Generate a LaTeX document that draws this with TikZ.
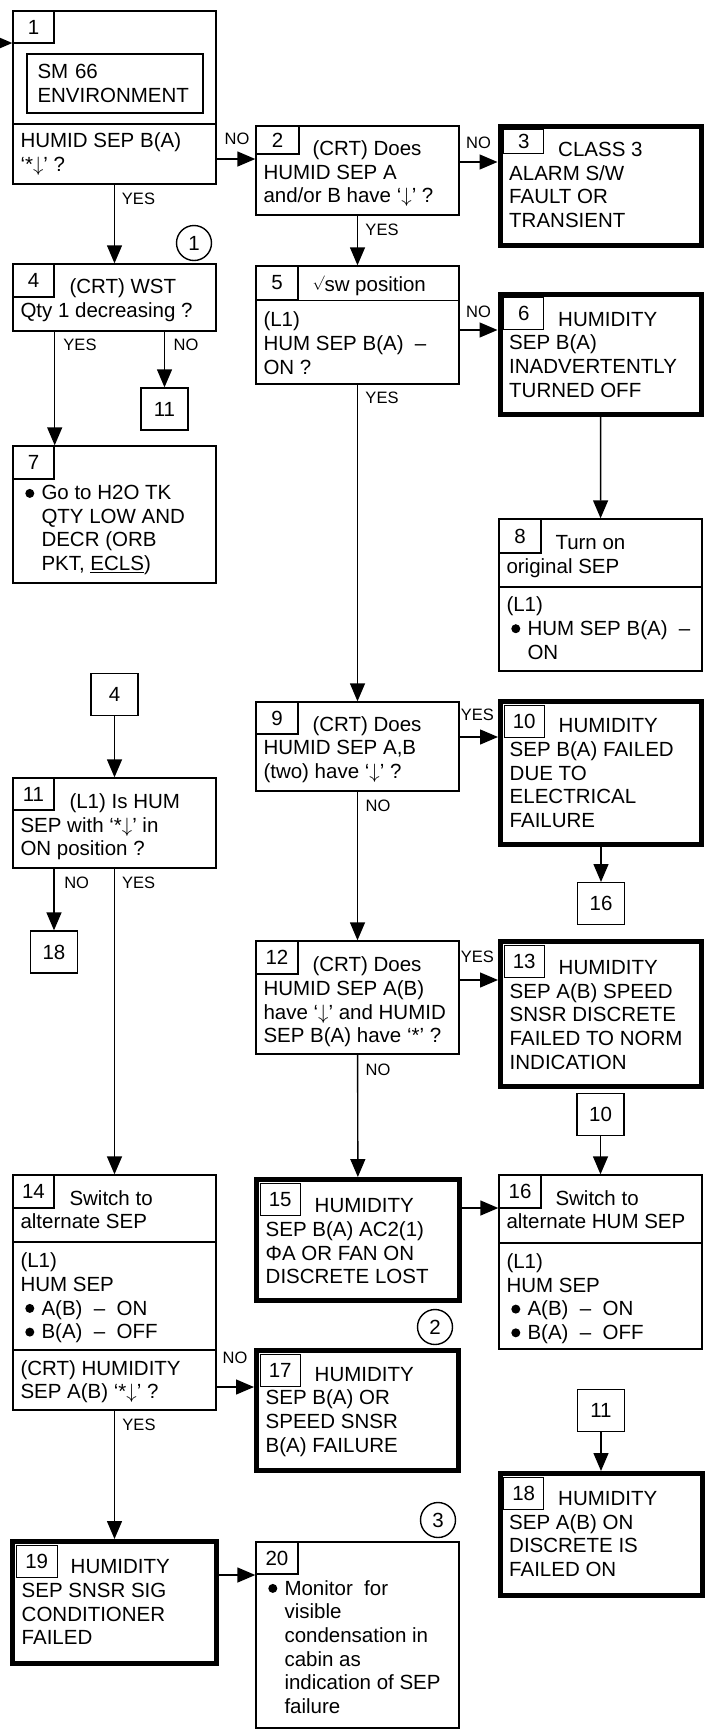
\documentclass[tikz,border=0pt]{standalone}
\usepackage{fontspec}
\setmainfont{Liberation Sans}
\usepackage{tikz}
\usetikzlibrary{arrows.meta, positioning}

\begin{document}
\begin{tikzpicture}[
    x=1pt, y=-1pt,
    node distance=35pt,
    box/.style={rectangle, draw=black, line width=1.4pt, inner sep=0pt},
    alarm/.style={rectangle, draw=black, line width=5pt, inner sep=0pt},
    tab/.style={rectangle, draw=black, line width=1.4pt, inner sep=0pt, anchor=north west, minimum width=42pt, minimum height=33pt, font=\fontsize{20.5}{24}\selectfont},
    ttab/.style={tab, minimum width=40pt, minimum height=32pt},
    txt/.style={anchor=north west, inner sep=0pt, align=left, font=\fontsize{20.5}{23.7}\selectfont, execute at begin node=\strut},
    refbox/.style={rectangle, draw=black, line width=1.4pt, minimum width=47pt, minimum height=42pt, inner sep=0pt, font=\fontsize{20.5}{24}\selectfont},
    conn/.style={circle, draw=black, line width=1.4pt, minimum size=35pt, inner sep=0pt, font=\fontsize{20.5}{24}\selectfont},
    lbl/.style={inner sep=0pt, font=\fontsize{16.5}{18}\selectfont},
    divider/.style={line width=1.4pt},
    arrow/.style={-{Triangle[length=18pt, width=15pt]}, line width=1.4pt}
]
\useasboundingbox (0,0) rectangle (711,1733);
\coordinate (in) at (0,43);

% Left column
\node (b1) [box, minimum width=203pt, minimum height=173pt] at (114.5,97.5) {};
\node (n1) [tab, minimum width=41pt, minimum height=32pt] at (b1.north west) {1};
\node (b1env) [box, minimum width=176pt, minimum height=59pt, text width=155pt, align=left, font=\fontsize{20.5}{23.7}\selectfont] at (115,83.5) {SM 66\\ENVIRONMENT};
\draw[divider] (b1.west |- 0,124) -- (b1.east |- 0,124);
\node (t1) [txt] at ([shift={(8,122)}]b1.north west) {HUMID SEP B(A)\\‘*$\downarrow$’ ?};

\node (b4) [box, minimum width=203pt, minimum height=67pt] at (114.5,297.5) {};
\node (n4) [tab, minimum width=41pt] at (b4.north west) {4};
\node (t4) [txt] at ([shift={(8,15)}]b4.north west) {\hspace*{49pt}(CRT) WST\\Qty 1 decreasing ?};

\node (r11a) [refbox] at (164.5,409) {11};

\node (b7) [box, minimum width=203pt, minimum height=137pt] at (114.5,514.5) {};
\node (n7) [tab, minimum width=41pt] at (b7.north west) {7};
\node (t7) [txt] at ([shift={(8,39.7)}]b7.north west) {\hspace*{21pt}Go to H2O TK\\\hspace*{21pt}QTY LOW AND\\\hspace*{21pt}DECR (ORB\\\hspace*{21pt}PKT, \underline{ECLS})};
\fill ([shift={(9.5,8.4)}]t7.north west) circle (4.5pt);

\node (b11) [box, minimum width=203pt, minimum height=90pt] at (114.5,823) {};
\node (n11) [tab, minimum width=41pt, minimum height=32pt] at (b11.north west) {11};
\node (t11) [txt] at ([shift={(8,16)}]b11.north west) {\hspace*{49pt}(L1) Is HUM\\SEP with ‘*$\downarrow$’ in\\ON position ?};
\node (r4) [refbox, above=61pt of b11] {4};
\node (r18a) [refbox] at (54,952) {18};

\node (b14) [box, minimum width=203pt, minimum height=235pt] at (114.5,1292.5) {};
\node (n14) [tab, minimum width=41pt] at (b14.north west) {14};
\node (t14) [txt] at ([shift={(8,15.7)}]b14.north west) {\hspace*{49pt}Switch to\\alternate SEP};
\draw[divider] (b14.west |- 0,1242) -- (b14.east |- 0,1242);
\node (t14b) [txt] at ([shift={(8,78.3)}]b14.north west) {(L1)\\HUM SEP\\\hspace*{21pt}A(B)~~–~~ON\\\hspace*{21pt}B(A)~~–~~OFF};
\fill ([shift={(9.5,55.8)}]t14b.north west) circle (4.5pt);
\fill ([shift={(9.5,79.5)}]t14b.north west) circle (4.5pt);
\draw[divider] (b14.west |- 0,1350) -- (b14.east |- 0,1350);
\node (t14c) [txt] at ([shift={(8,185.7)}]b14.north west) {(CRT) HUMIDITY\\SEP A(B) ‘*$\downarrow$’ ?};

\node (b19) [alarm, minimum width=204pt, minimum height=122pt] at (114.5,1602.5) {};
\node (n19) [ttab, minimum width=41pt] at ([shift={(5.5,5.5)}]b19.north west) {19};
\node (t19) [txt] at ([shift={(11.5,20.4)}]b19.north west) {\hspace*{49pt}HUMIDITY\\SEP SNSR SIG\\CONDITIONER\\FAILED};

% Middle column
\node (b2) [box, minimum width=203pt, minimum height=89pt] at (357.5,170.5) {};
\node (n2) [tab, minimum width=43pt, minimum height=28pt] at (b2.north west) {2};
\node (t2) [txt] at ([shift={(8,15)}]b2.north west) {\hspace*{49pt}(CRT) Does\\HUMID SEP A\\and/or B have ‘$\downarrow$’ ?};

\node (b5) [box, minimum width=203pt, minimum height=118pt] at (357.5,325) {};
\node (n5) [tab, minimum height=34pt] at (b5.north west) {5};
\draw[divider] (n5.south east) -- (n5.south east -| b5.east);
\node (h5) [txt, anchor=base west] at ([shift={(57,26)}]b5.north west) {{\fontsize{14}{14}\selectfont\raisebox{5pt}{$\surd$}}sw position};
\node (t5) [txt] at ([shift={(8,46.3)}]b5.north west) {(L1)\\HUM SEP B(A)~~–\\ON ?};

\node (b9) [box, minimum width=203pt, minimum height=89pt] at (357.5,746.5) {};
\node (n9) [tab, minimum height=32pt] at (b9.north west) {9};
\node (t9) [txt] at ([shift={(8,14.7)}]b9.north west) {\hspace*{49pt}(CRT) Does\\HUMID SEP A,B\\(two) have ‘$\downarrow$’ ?};

\node (b12) [box, minimum width=203pt, minimum height=113pt] at (357.5,997.5) {};
\node (n12) [tab] at (b12.north west) {12};
\node (t12) [txt] at ([shift={(8,16.3)}]b12.north west) {\hspace*{49pt}(CRT) Does\\HUMID SEP A(B)\\have ‘$\downarrow$’ and HUMID\\SEP B(A) have ‘*’ ?};

\node (b15) [alarm, minimum width=203pt, minimum height=121pt] at (358,1240) {};
\node (n15) [ttab] at ([shift={(5.5,5.5)}]b15.north west) {15};
\node (t15) [txt] at ([shift={(11.5,21.4)}]b15.north west) {\hspace*{49pt}HUMIDITY\\SEP B(A) AC2(1)\\ΦA OR FAN ON\\DISCRETE LOST};

\node (b17) [alarm, minimum width=202pt, minimum height=120pt] at (357.5,1410.5) {};
\node (n17) [ttab] at ([shift={(5.5,5.5)}]b17.north west) {17};
\node (t17) [txt] at ([shift={(11.5,18.7)}]b17.north west) {\hspace*{49pt}HUMIDITY\\SEP B(A) OR\\SPEED SNSR\\B(A) FAILURE};

\node (b20) [box, minimum width=203pt, minimum height=186pt] at (357.5,1635) {};
\node (n20) [tab, minimum height=32pt] at (b20.north west) {20};
\node (t20) [txt] at ([shift={(8,38.7)}]b20.north west) {\hspace*{21pt}Monitor~ for\\\hspace*{21pt}visible\\\hspace*{21pt}condensation in\\\hspace*{21pt}cabin as\\\hspace*{21pt}indication of SEP\\\hspace*{21pt}failure};
\fill ([shift={(9.5,8.4)}]t20.north west) circle (4.5pt);

% Right column
\node (b3) [alarm, minimum width=201pt, minimum height=119pt] at (600.5,185.5) {};
\node (n3) [ttab, minimum height=24pt] at ([shift={(5.5,5.5)}]b3.north west) {3};
\node (t3) [txt] at ([shift={(11.5,18.5)}]b3.north west) {\hspace*{49pt}CLASS 3\\ALARM S/W\\FAULT OR\\TRANSIENT};

\node (b6) [alarm, minimum width=201.5pt, minimum height=120pt] at (600.75,354) {};
\node (n6) [ttab] at ([shift={(5.5,5.5)}]b6.north west) {6};
\node (t6) [txt] at ([shift={(11.5,20.2)}]b6.north west) {\hspace*{49pt}HUMIDITY\\SEP B(A)\\INADVERTENTLY\\TURNED OFF};

\node (b8) [box, minimum width=203pt, minimum height=152pt] at (600.5,595) {};
\node (n8) [tab, minimum height=34pt] at (b8.north west) {8};
\node (t8) [txt] at ([shift={(8,16.7)}]b8.north west) {\hspace*{49pt}Turn on\\original SEP};
\draw[divider] (b8.west |- 0,587) -- (b8.east |- 0,587);
\node (t8b) [txt] at ([shift={(8,78.3)}]b8.north west) {(L1)\\\hspace*{21pt}HUM SEP B(A)~~–\\\hspace*{21pt}ON};
\fill ([shift={(9.5,32.1)}]t8b.north west) circle (4.5pt);

\node (b10) [alarm, minimum width=201pt, minimum height=143pt] at (601,773) {};
\node (n10) [ttab] at ([shift={(5.5,5.5)}]b10.north west) {10};
\node (t10) [txt] at ([shift={(11.5,19.4)}]b10.north west) {\hspace*{49pt}HUMIDITY\\SEP B(A) FAILED\\DUE TO\\ELECTRICAL\\FAILURE};
\node (r16a) [refbox, below=of b10] {16};

\node (b13) [alarm, minimum width=201pt, minimum height=145pt] at (601,1014) {};
\node (n13) [ttab] at ([shift={(5.5,5.5)}]b13.north west) {13};
\node (t13) [txt] at ([shift={(11.5,21.1)}]b13.north west) {\hspace*{49pt}HUMIDITY\\SEP A(B) SPEED\\SNSR DISCRETE\\FAILED TO NORM\\INDICATION};

\node (b16) [box, minimum width=203pt, minimum height=174pt] at (600.5,1262) {};
\node (n16) [tab] at (b16.north west) {16};
\node (t16) [txt] at ([shift={(8,15.7)}]b16.north west) {\hspace*{49pt}Switch to\\alternate HUM SEP};
\draw[divider] (b16.west |- 0,1243) -- (b16.east |- 0,1243);
\node (t16b) [txt] at ([shift={(8,79)}]b16.north west) {(L1)\\HUM SEP\\\hspace*{21pt}A(B)~~–~~ON\\\hspace*{21pt}B(A)~~–~~OFF};
\fill ([shift={(9.5,55.8)}]t16b.north west) circle (4.5pt);
\fill ([shift={(9.5,79.5)}]t16b.north west) circle (4.5pt);
\node (r10) [refbox, above=38pt of b16] {10};

\node (b18) [alarm, minimum width=202pt, minimum height=122pt] at (601,1534.5) {};
\node (n18) [ttab] at ([shift={(5.5,5.5)}]b18.north west) {18};
\node (t18) [txt] at ([shift={(11.5,20.1)}]b18.north west) {\hspace*{49pt}HUMIDITY\\SEP A(B) ON\\DISCRETE IS\\FAILED ON};
\node (r11b) [refbox, above=39pt of b18] {11};

% Connectors in circles
\node (c1) [conn] at (194,243) {1};
\node (c2) [conn] at (435,1327) {2};
\node (c3) [conn] at (438,1520) {3};

% Labels
\node (l12) [lbl] at (237,139) {NO};
\node (l14) [lbl] at (138.5,199) {YES};
\node (l23) [lbl] at (478.5,142.5) {NO};
\node (l25) [lbl] at (382,230) {YES};
\node (l47) [lbl] at (80,345) {YES};
\node (l411) [lbl] at (186,345) {NO};
\node (l56) [lbl] at (478.5,311.7) {NO};
\node (l59) [lbl] at (382,398.3) {YES};
\node (l910) [lbl] at (477.3,715) {YES};
\node (l912) [lbl] at (378,806) {NO};
\node (l1213) [lbl] at (477.3,957) {YES};
\node (l1215) [lbl] at (378,1070) {NO};
\node (l1118) [lbl] at (76.7,883) {NO};
\node (l1114) [lbl] at (138.7,883) {YES};
\node (l1417) [lbl] at (235,1358.3) {NO};
\node (l1419) [lbl] at (139,1425) {YES};

% Arrows
\draw [arrow] (in) -- (b1.west |- in);
\draw [arrow] (b1.east |- 0,159) -- (b2.west |- 0,159);
\draw [arrow] (b1) -- (b4);
\draw [arrow] (b2.east |- 0,162) -- (b3.west |- 0,162);
\draw [arrow] (b2) -- (b5);
\draw [arrow] (n4.east |- b4.south) -- (n4.east |- b7.north);
\draw [arrow] (b4.south -| r11a) -- (r11a);
\draw [arrow] (b5.east |- 0,330) -- (b6.west |- 0,330);
\draw [arrow] (b5) -- (b9);
\draw [arrow] (b6) -- (b8);
\draw [arrow] (b9.east |- 0,737) -- (b10.west |- 0,737);
\draw [arrow] (b9) -- (b12);
\draw [arrow] (b10) -- (r16a);
\draw [arrow] (r4) -- (b11);
\draw [arrow] (b11.south -| r18a) -- (r18a);
\draw [arrow] (b11) -- (b14);
\draw [arrow] (b12.east |- 0,980) -- (b13.west |- 0,980);
\draw [arrow] (b12) -- (b15);
\draw [arrow] (r10) -- (b16);
\draw [arrow] (b15.east |- 0,1208) -- (b16.west |- 0,1208);
\draw [arrow] (b14.east |- 0,1387) -- (b17.west |- 0,1387);
\draw [arrow] (b14) -- (b19);
\draw [arrow] (r11b) -- (b18);
\draw [arrow] (b19.east |- 0,1575) -- (b20.west |- 0,1575);

\end{tikzpicture}
\end{document}
